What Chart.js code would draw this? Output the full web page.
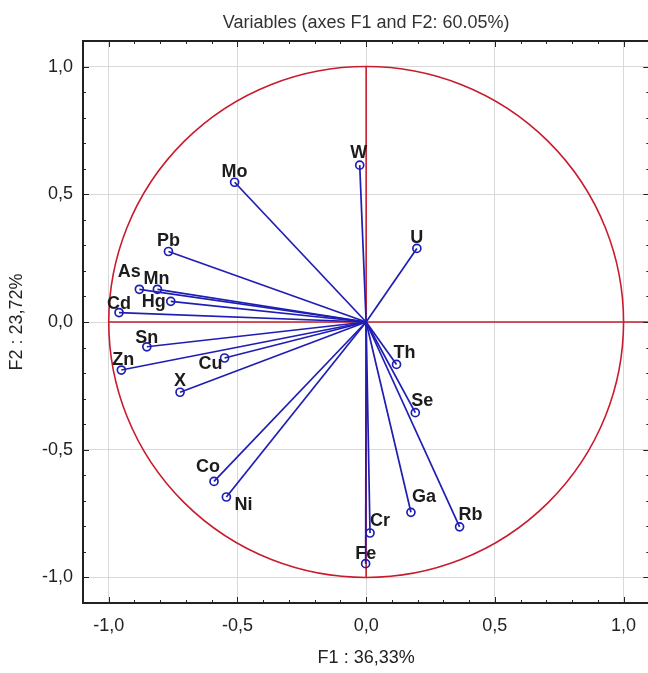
<!DOCTYPE html>
<html>
<head>
<meta charset="utf-8">
<script src="https://cdn.jsdelivr.net/npm/chart.js@4.4.1/dist/chart.umd.min.js"></script>
<style>
html,body{margin:0;padding:0;background:#fff;overflow:hidden}
#wrap{width:648px;height:673px;overflow:hidden;position:relative}
canvas{position:absolute;left:0;top:0}
</style>
</head>
<body>
<div id="wrap"><canvas id="pca" width="655" height="673"></canvas></div>
<script>
// variable loadings on F1 / F2
const variables = ['W','Mo','Pb','As','Mn','Hg','Cd','Sn','Zn','Cu','X','U','Th','Se','Ga','Rb','Cr','Fe','Co','Ni'];
const f1 = [-0.025,-0.511,-0.768,-0.881,-0.811,-0.759,-0.960,-0.852,-0.951,-0.550,-0.723,0.197,0.118,0.191,0.174,0.363,0.015,-0.002,-0.591,-0.543];
const f2 = [0.614,0.547,0.276,0.128,0.128,0.081,0.037,-0.097,-0.188,-0.141,-0.275,0.288,-0.166,-0.355,-0.745,-0.802,-0.826,-0.946,-0.624,-0.685];
const tickValues = [-1,-0.5,0,0.5,1];

const BLUE = 'rgb(30,30,180)';
const RED = 'rgb(200,28,45)';
const TXT = '#222';
const FONT = 'Liberation Sans, Arial, sans-serif';

// label placement: [dx of text centre, dy of baseline] from the point, in px
const labelPos = {
  W:[-1,-7], Mo:[0,-5], Pb:[0,-5], As:[-10,-12], Mn:[-1,-5], Hg:[-17,6],
  Cd:[0,-4], Sn:[0,-4], Zn:[2,-5], Cu:[-14,11], X:[0,-6], U:[0,-5],
  Th:[8,-6], Se:[7,-7], Ga:[13,-10], Rb:[11,-7], Cr:[10,-7], Fe:[0,-5],
  Co:[-6,-9], Ni:[17,13]
};

const datasets = variables.map((name, i) => ({
  label: name,
  data: [{x:0, y:0}, {x:f1[i], y:f2[i]}],
  showLine: true,
  borderColor: BLUE,
  borderWidth: 1.7,
  pointRadius: ctx => ctx.dataIndex === 0 ? 0 : 4,
  pointBorderColor: BLUE,
  pointBackgroundColor: 'rgba(0,0,0,0)',
  pointBorderWidth: 1.7
}));

const fmt = v => v.toFixed(1).replace('.', ',');

const frame = {
  id: 'frame',
  beforeDatasetsDraw(chart) {
    const {ctx, chartArea: a, scales: {x, y}} = chart;
    ctx.save();
    ctx.beginPath();
    ctx.rect(a.left, a.top, a.right - a.left, a.bottom - a.top);
    ctx.clip();
    ctx.strokeStyle = RED;
    ctx.lineWidth = 1.6;
    // unit circle
    const cx = x.getPixelForValue(0), cy = y.getPixelForValue(0);
    const rx = x.getPixelForValue(1) - cx, ry = cy - y.getPixelForValue(1);
    ctx.beginPath();
    ctx.ellipse(cx, cy, rx, ry, 0, 0, Math.PI * 2);
    ctx.stroke();
    // axes through origin
    ctx.beginPath();
    ctx.moveTo(x.getPixelForValue(-1), cy);
    ctx.lineTo(a.right, cy);
    ctx.moveTo(cx, y.getPixelForValue(1));
    ctx.lineTo(cx, y.getPixelForValue(-1));
    ctx.stroke();
    ctx.restore();
  },
  afterDatasetsDraw(chart) {
    const {ctx, chartArea: a, scales: {x, y}} = chart;
    ctx.save();
    // labels
    ctx.font = 'bold 18px ' + FONT;
    ctx.fillStyle = '#1c1c1c';
    ctx.textAlign = 'center';
    ctx.textBaseline = 'alphabetic';
    variables.forEach((name, i) => {
      const p = labelPos[name];
      ctx.fillText(name, x.getPixelForValue(f1[i]) + p[0], y.getPixelForValue(f2[i]) + p[1]);
    });
    // border
    ctx.strokeStyle = '#222';
    ctx.lineWidth = 2;
    ctx.strokeRect(a.left, a.top, a.right - a.left, a.bottom - a.top);
    // inward tick marks every 0.1
    ctx.lineWidth = 1;
    ctx.beginPath();
    for (let k = -11; k <= 11; k++) {
      const len = k % 5 === 0 ? 6 : 3;
      const px = Math.round(x.getPixelForValue(k / 10)) + 0.5;
      const py = Math.round(y.getPixelForValue(k / 10)) + 0.5;
      ctx.moveTo(px, a.bottom); ctx.lineTo(px, a.bottom - len);
      ctx.moveTo(px, a.top); ctx.lineTo(px, a.top + len);
      ctx.moveTo(a.left, py); ctx.lineTo(a.left + len, py);
      ctx.moveTo(a.right, py); ctx.lineTo(a.right - len, py);
    }
    ctx.stroke();
    // title
    ctx.font = '18px ' + FONT;
    ctx.fillStyle = '#333';
    ctx.textBaseline = 'middle';
    ctx.fillText('Variables (axes F1 and F2: 60.05%)', (a.left + a.right) / 2, 23);
    ctx.restore();
  }
};

const axis = (titleText, extra) => Object.assign({
  type: 'linear',
  min: -1.1,
  max: 1.1,
  afterBuildTicks: s => { s.ticks = tickValues.map(v => ({value: v})); },
  ticks: {callback: v => fmt(v), font: {size: 18, family: FONT}, color: TXT},
  grid: {color: '#d9d9d9', lineWidth: 1, drawTicks: false},
  border: {display: false},
  title: {display: true, text: titleText, font: {size: 18, family: FONT}, color: TXT}
}, extra);

new Chart(document.getElementById('pca'), {
  type: 'scatter',
  data: {datasets},
  options: {
    responsive: false,
    animation: false,
    devicePixelRatio: 1,
    layout: {padding: {top: 41, right: 1, left: 0, bottom: 0}},
    plugins: {legend: {display: false}, tooltip: {enabled: false}},
    scales: {
      x: axis('F1 : 36,33%', {
        position: 'bottom',
        afterFit: s => { s.height = 70; }
      }),
      y: axis('F2 : 23,72%', {
        position: 'left',
        afterFit: s => { s.width = 83; }
      })
    }
  },
  plugins: [frame]
});
// tick label padding and title padding
const c = Chart.getChart('pca');
c.options.scales.x.ticks.padding = 12;
c.options.scales.y.ticks.padding = 10;
c.options.scales.x.title.padding = {top: 4, bottom: 4};
c.options.scales.y.title.padding = {top: 6, bottom: 6};
c.update();
</script>
</body>
</html>
